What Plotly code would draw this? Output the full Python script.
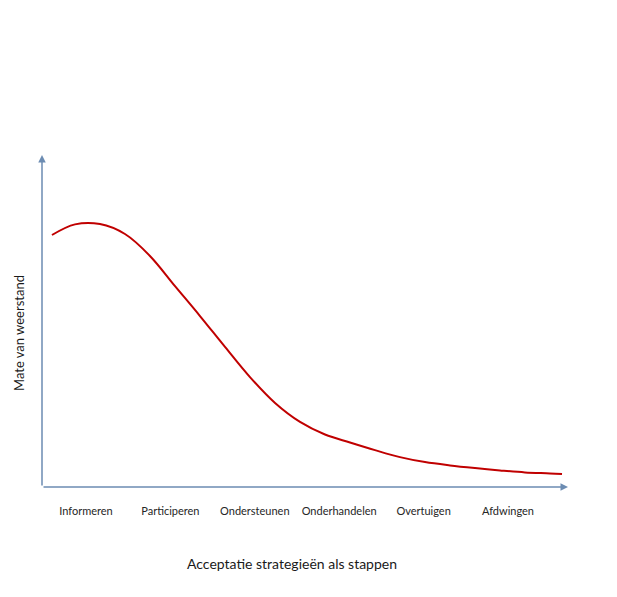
import plotly.graph_objects as go

categories = ["Informeren", "Participeren", "Ondersteunen", "Onderhandelen", "Overtuigen", "Afdwingen"]
curve_x = [-0.403, -0.130, 0.166, 0.462, 0.758, 1.055, 1.351, 1.647, 1.943, 2.240, 2.536,
           2.832, 3.128, 3.424, 3.720, 4.017, 4.313, 4.609, 4.905, 5.201, 5.498, 5.640]
curve_y = [75.9, 79.1, 79.2, 76.2, 69.6, 60.5, 51.5, 42.2, 33.1, 25.3, 19.6,
           15.8, 13.4, 11.1, 9.0, 7.5, 6.5, 5.7, 5.0, 4.4, 4.1, 3.9]
x_title = "Acceptatie strategieën als stappen"
y_title = "Mate van weerstand"

XMIN, XMAX = -0.521, 5.711
YMIN, YMAX = 0, 100
AXIS_COLOR = "#6c8cb2"
FONT = "Lato, Open Sans, sans-serif"

fig = go.Figure()
fig.add_trace(go.Scatter(x=curve_x, y=curve_y, mode="lines",
                         line=dict(color="#c00000", width=2, shape="spline", smoothing=1.0),
                         hoverinfo="skip", showlegend=False))

# axis arrows
fig.add_annotation(x=XMAX, y=YMIN, ax=XMIN, ay=YMIN, xref="x", yref="y", axref="x", ayref="y",
                   showarrow=True, arrowhead=2, arrowsize=1, arrowwidth=1.5,
                   arrowcolor=AXIS_COLOR, text="")
fig.add_annotation(x=XMIN, y=YMAX, ax=XMIN, ay=YMIN, xref="x", yref="y", axref="x", ayref="y",
                   showarrow=True, arrowhead=2, arrowsize=1, arrowwidth=1.5,
                   arrowcolor=AXIS_COLOR, text="")

# titles (paper coords relative to plot area)
fig.add_annotation(xref="paper", yref="paper", x=(292 - 42) / 526, y=(487 - 563) / 332,
                   text=x_title, showarrow=False, xanchor="center", yanchor="middle",
                   font=dict(family=FONT, size=14, color="#1a1a1a"))
fig.add_annotation(xref="paper", yref="paper", x=(19 - 42) / 526, y=(487 - 333) / 332,
                   text=y_title, textangle=-90, showarrow=False, xanchor="center", yanchor="middle",
                   font=dict(family=FONT, size=13, color="#1a1a1a"))

fig.update_xaxes(range=[XMIN, XMAX], showgrid=False, zeroline=False, showline=False,
                 tickvals=list(range(len(categories))), ticktext=categories, ticks="",
                 ticklabelstandoff=16, tickfont=dict(family=FONT, size=11, color="#262626"))
fig.update_yaxes(range=[YMIN, YMAX], showgrid=False, zeroline=False, showline=False,
                 showticklabels=False, ticks="")

fig.update_layout(width=617, height=597, margin=dict(l=34, r=57, t=147, b=118),
                  paper_bgcolor="white", plot_bgcolor="white")

fig.write_html("out.html")
